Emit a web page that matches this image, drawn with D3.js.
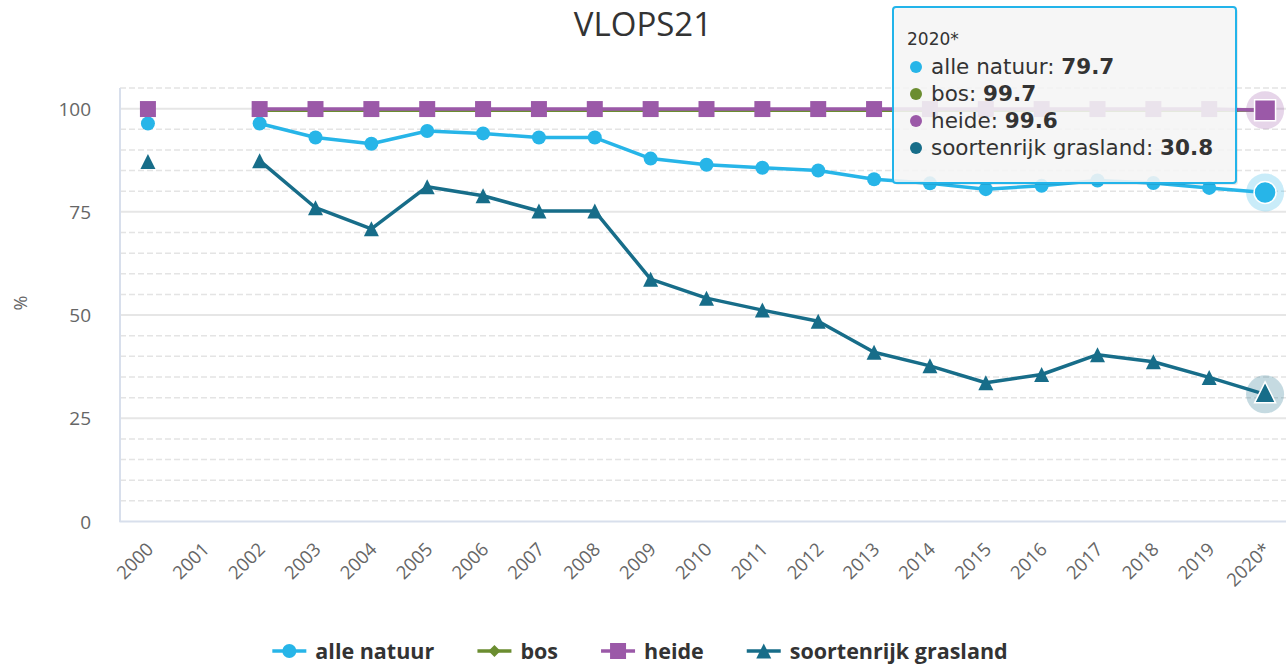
<!DOCTYPE html>
<html>
<head>
<meta charset="utf-8">
<script src="https://cdn.jsdelivr.net/npm/d3@7"></script>
<style>
  body { margin: 0; background: #fff; }
  svg { display: block; font-family: "Open Sans", "DejaVu Sans", sans-serif; }
</style>
</head>
<body>
<svg id="chart" width="1286" height="664"></svg>
<script>
// data
var years = ["2000","2001","2002","2003","2004","2005","2006","2007","2008","2009","2010",
             "2011","2012","2013","2014","2015","2016","2017","2018","2019","2020*"];
var alleNatuur = [96.4,null,96.4,93.0,91.5,94.6,94.0,93.0,93.0,87.9,86.4,
                  85.7,85.0,82.9,81.9,80.5,81.3,82.6,82.0,80.8,79.7];
var bos        = [99.6,null,99.6,99.6,99.6,99.6,99.6,99.6,99.6,99.6,99.6,
                  99.6,99.6,99.6,99.6,99.6,99.6,99.6,99.6,99.6,99.7];
var heide      = [99.9,null,99.9,99.9,99.9,99.9,99.9,99.9,99.9,99.9,99.9,
                  99.9,99.9,99.9,99.9,99.9,99.9,99.9,99.9,99.9,99.6];
var grasland   = [87.2,null,87.4,76.0,70.9,81.1,78.9,75.2,75.2,58.7,54.1,
                  51.2,48.5,41.0,37.7,33.6,35.6,40.4,38.7,34.9,30.8];
var yTicks = [0,25,50,75,100];

var series = [
  {name: "alle natuur", values: alleNatuur, color: "#27b5e8", symbol: "circle"},
  {name: "bos", values: bos, color: "#6b8d30", symbol: "diamond"},
  {name: "heide", values: heide, color: "#9b59a8", symbol: "square"},
  {name: "soortenrijk grasland", values: grasland, color: "#176d89", symbol: "triangle"}
];

var svg = d3.select("#chart");
var plot = {left: 120, right: 1293, top: 88, bottom: 521.5};

var x = d3.scalePoint().domain(years).range([plot.left, plot.right]).padding(0.5);
var y = d3.scaleLinear().domain([0, 105]).range([plot.bottom, plot.top]);

// title (first line is cut off in the reference)
svg.append("text")
  .attr("x", 643).attr("y", 36)
  .attr("text-anchor", "middle")
  .attr("font-size", 33)
  .attr("fill", "#333")
  .text("VLOPS21");

// grid: dashed minor lines every 5, solid major lines every 25
var grid = svg.append("g");
grid.selectAll("line.minor")
  .data(d3.range(5, 106, 5).filter(function(v){ return v % 25 != 0; }))
  .join("line")
  .attr("x1", plot.left).attr("x2", 1286)
  .attr("y1", function(d){ return y(d); }).attr("y2", function(d){ return y(d); })
  .attr("stroke", "#e4e4e4").attr("stroke-width", 1.5)
  .attr("stroke-dasharray", "6,3");
grid.selectAll("line.major")
  .data(yTicks.filter(function(v){ return v > 0; }))
  .join("line")
  .attr("x1", plot.left).attr("x2", 1286)
  .attr("y1", function(d){ return y(d); }).attr("y2", function(d){ return y(d); })
  .attr("stroke", "#e6e6e6").attr("stroke-width", 2);

// axis lines
svg.append("path")
  .attr("d", "M" + plot.left + "," + plot.top + "V" + plot.bottom + "H1286")
  .attr("fill", "none").attr("stroke", "#d8dfec").attr("stroke-width", 2)
  .attr("stroke-linejoin", "round");

// y labels
svg.append("g").selectAll("text")
  .data(yTicks)
  .join("text")
  .attr("x", 91).attr("y", function(d){ return y(d) + 7; })
  .attr("text-anchor", "end")
  .attr("font-size", 19).attr("fill", "#666")
  .text(function(d){ return d; });

svg.append("text")
  .attr("transform", "translate(27,303) rotate(-90)")
  .attr("text-anchor", "middle")
  .attr("font-size", 18).attr("fill", "#666")
  .text("%");

// x labels, rotated
svg.append("g").selectAll("text")
  .data(years)
  .join("text")
  .attr("transform", function(d){ return "translate(" + (x(d) + 2) + ",546) rotate(-45)"; })
  .attr("text-anchor", "end")
  .attr("dy", "0.35em")
  .attr("font-size", 18.5).attr("fill", "#666")
  .text(function(d){ return d; });

// symbols
function symbolPath(sym, size){
  var h = size / 2;
  if (sym == "square") return "M" + (-h) + "," + (-h) + "h" + size + "v" + size + "h" + (-size) + "Z";
  if (sym == "triangle") return "M0," + (-h) + "L" + h + "," + h + "L" + (-h) + "," + h + "Z";
  if (sym == "diamond") return "M0," + (-h) + "L" + h + ",0L0," + h + "L" + (-h) + ",0Z";
  return "M" + h + ",0A" + h + "," + h + " 0 1,1 " + (-h) + ",0A" + h + "," + h + " 0 1,1 " + h + ",0Z";
}
var markerSize = {circle: 14, diamond: 12, square: 16, triangle: 15};

var line = d3.line()
  .defined(function(d){ return d.v != null; })
  .x(function(d){ return x(d.year); })
  .y(function(d){ return y(d.v); });

series.forEach(function(s){
  var pts = years.map(function(yr, i){ return {year: yr, v: s.values[i]}; });
  var g = svg.append("g");
  g.append("path")
    .datum(pts)
    .attr("d", line)
    .attr("fill", "none")
    .attr("stroke", s.color)
    .attr("stroke-width", 3.5)
    .attr("stroke-linejoin", "round");
  g.selectAll("path.pt")
    .data(pts.filter(function(d){ return d.v != null && d.year != "2020*"; }))
    .join("path")
    .attr("class", "pt")
    .attr("transform", function(d){ return "translate(" + x(d.year) + "," + y(d.v) + ")"; })
    .attr("d", symbolPath(s.symbol, markerSize[s.symbol]))
    .attr("fill", s.color);
});

// hovered point 2020* with halo
series.forEach(function(s){
  var last = years.length - 1;
  var px = x(years[last]), py = y(s.values[last]);
  var g = svg.append("g").attr("transform", "translate(" + px + "," + py + ")");
  if (s.symbol == "diamond") return;
  g.append("circle").attr("r", 19).attr("fill", s.color).attr("opacity", 0.25);
  g.append("path")
    .attr("d", symbolPath(s.symbol, s.symbol == "circle" ? 22 : 21))
    .attr("transform", s.symbol == "triangle" ? "translate(0,-2)" : null)
    .attr("fill", s.color)
    .attr("stroke", "#fff").attr("stroke-width", 1.5);
});

// tooltip
var tip = svg.append("g").attr("transform", "translate(893,7)")
  .style("font-family", "'DejaVu Sans', Verdana, sans-serif");
tip.append("rect")
  .attr("x", 2).attr("y", 2).attr("width", 343).attr("height", 176).attr("rx", 3)
  .attr("fill", "#000").attr("opacity", 0.08);
tip.append("rect")
  .attr("width", 343).attr("height", 176).attr("rx", 3)
  .attr("fill", "rgba(247,247,247,0.88)")
  .attr("stroke", "#22b4ea").attr("stroke-width", 2);
tip.append("text")
  .attr("x", 14).attr("y", 38)
  .attr("font-size", 17).attr("fill", "#333")
  .text(years[years.length - 1]);
series.forEach(function(s, i){
  var ty = 67 + i * 27;
  tip.append("circle").attr("cx", 23).attr("cy", ty - 7).attr("r", 6).attr("fill", s.color);
  var t = tip.append("text")
    .attr("x", 38).attr("y", ty)
    .attr("font-size", 21.5).attr("fill", "#333");
  t.append("tspan").text(s.name + ": ");
  t.append("tspan").attr("font-weight", "bold").text(s.values[years.length - 1]);
});

// legend, laid out left to right and centred
var legend = svg.append("g");
var items = legend.selectAll("g")
  .data(series)
  .join("g");
items.append("line")
  .attr("x1", 0).attr("x2", 34).attr("y1", 0).attr("y2", 0)
  .attr("stroke", function(d){ return d.color; }).attr("stroke-width", 3.5);
items.append("path")
  .attr("transform", "translate(17,0)")
  .attr("d", function(d){ return symbolPath(d.symbol, markerSize[d.symbol]); })
  .attr("fill", function(d){ return d.color; });
items.append("text")
  .attr("x", 43).attr("y", 7.5)
  .attr("font-size", 21.5).attr("font-weight", "bold").attr("fill", "#333")
  .text(function(d){ return d.name; });

var offsets = [], pos = 0;
items.each(function(){
  offsets.push(pos);
  pos += this.getBBox().width + 43;
});
var total = pos - 43;
var start = 640 - total / 2;
items.attr("transform", function(d, i){ return "translate(" + (start + offsets[i]) + ",651)"; });
</script>
</body>
</html>
